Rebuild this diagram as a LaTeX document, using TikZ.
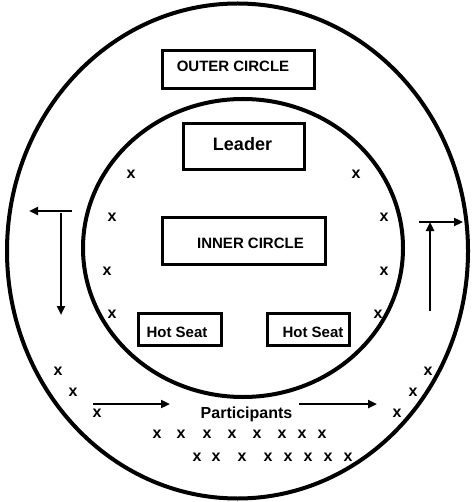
\documentclass[tikz,border=0pt]{standalone}
\usepackage{fontspec}
\setmainfont{Liberation Sans}
\usepackage{xcolor}
\usetikzlibrary{arrows.meta}
\definecolor{inkColor}{HTML}{000000}

\tikzset{
  ring/.style={draw=inkColor, line width=4pt},
  box/.style={draw=inkColor, line width=3pt, inner sep=0pt},
  boxText/.style={anchor=base, inner sep=0pt, font=\bfseries\fontsize{15}{18}\selectfont},
  person/.style={inner sep=0pt, font=\bfseries\fontsize{16}{19}\selectfont},
  flow/.style={draw=inkColor, line width=2.3pt, -{Triangle[length=9pt,width=8pt]}}
}

\begin{document}
\begin{tikzpicture}[x=1pt, y=-1pt]
  \useasboundingbox (0,0) rectangle (472,502);
  % the two circles
  \draw[ring] (237.5,251) ellipse [x radius=230.5pt, y radius=247.5pt];
  \draw[ring] (243,248) ellipse [x radius=160pt, y radius=149pt];

  % boxes
  \node[box, minimum width=152pt, minimum height=38pt] (outerBox) at (238,70) {};
  \node[boxText] (outerText) at (233,72) {OUTER CIRCLE};
  \node[box, minimum width=121pt, minimum height=46pt] (leaderBox) at (243.5,147) {};
  \node[boxText, font=\bfseries\fontsize{18}{21}\selectfont] (leaderText) at (242.5,151) {Leader};
  \node[box, minimum width=163pt, minimum height=46pt] (innerBox) at (243.5,241) {};
  \node[boxText] (innerText) at (250.5,248) {INNER CIRCLE};
  \node[box, minimum width=83pt, minimum height=32pt] (seatLeft) at (179.5,329) {};
  \node[boxText] (seatLeftText) at (177,337) {Hot Seat};
  \node[box, minimum width=82pt, minimum height=32pt] (seatRight) at (308,329) {};
  \node[boxText] (seatRightText) at (313,337) {Hot Seat};
  \node[boxText, font=\bfseries\fontsize{16}{19}\selectfont] (participants) at (246.5,418) {Participants};

  % arrows
  \coordinate (leftA) at (72,211);   \coordinate (leftB) at (29,211);
  \coordinate (leftC) at (61,213);   \coordinate (leftD) at (61,315);
  \coordinate (rightA) at (430,311); \coordinate (rightB) at (430,222);
  \coordinate (rightC) at (419,222); \coordinate (rightD) at (463,222);
  \coordinate (lowA) at (93,404);    \coordinate (lowB) at (170,404);
  \coordinate (lowC) at (299,404);   \coordinate (lowD) at (377,404);
  \draw[flow] (leftA) -- (leftB);
  \draw[flow] (leftC) -- (leftD);
  \draw[flow] (rightA) -- (rightB);
  \draw[flow] (rightC) -- (rightD);
  \draw[flow] (lowA) -- (lowB);
  \draw[flow] (lowC) -- (lowD);

  % people
  \foreach \px/\py [count=\i] in {131/174, 112/217, 107/271, 112/314,
      356/174, 384/217, 384/271, 378/314,
      58/371, 73/392, 97/413, 428/371, 413/392, 397/413}
    \node[person] (ring\i) at (\px,\py) {x};
  \foreach \px [count=\i] in {157,181,207,232,257,282,302,322}
    \node[person] (front\i) at (\px,434) {x};
  \foreach \px [count=\i] in {197,216,242,268,288,308,328,348}
    \node[person] (back\i) at (\px,457) {x};
\end{tikzpicture}
\end{document}
